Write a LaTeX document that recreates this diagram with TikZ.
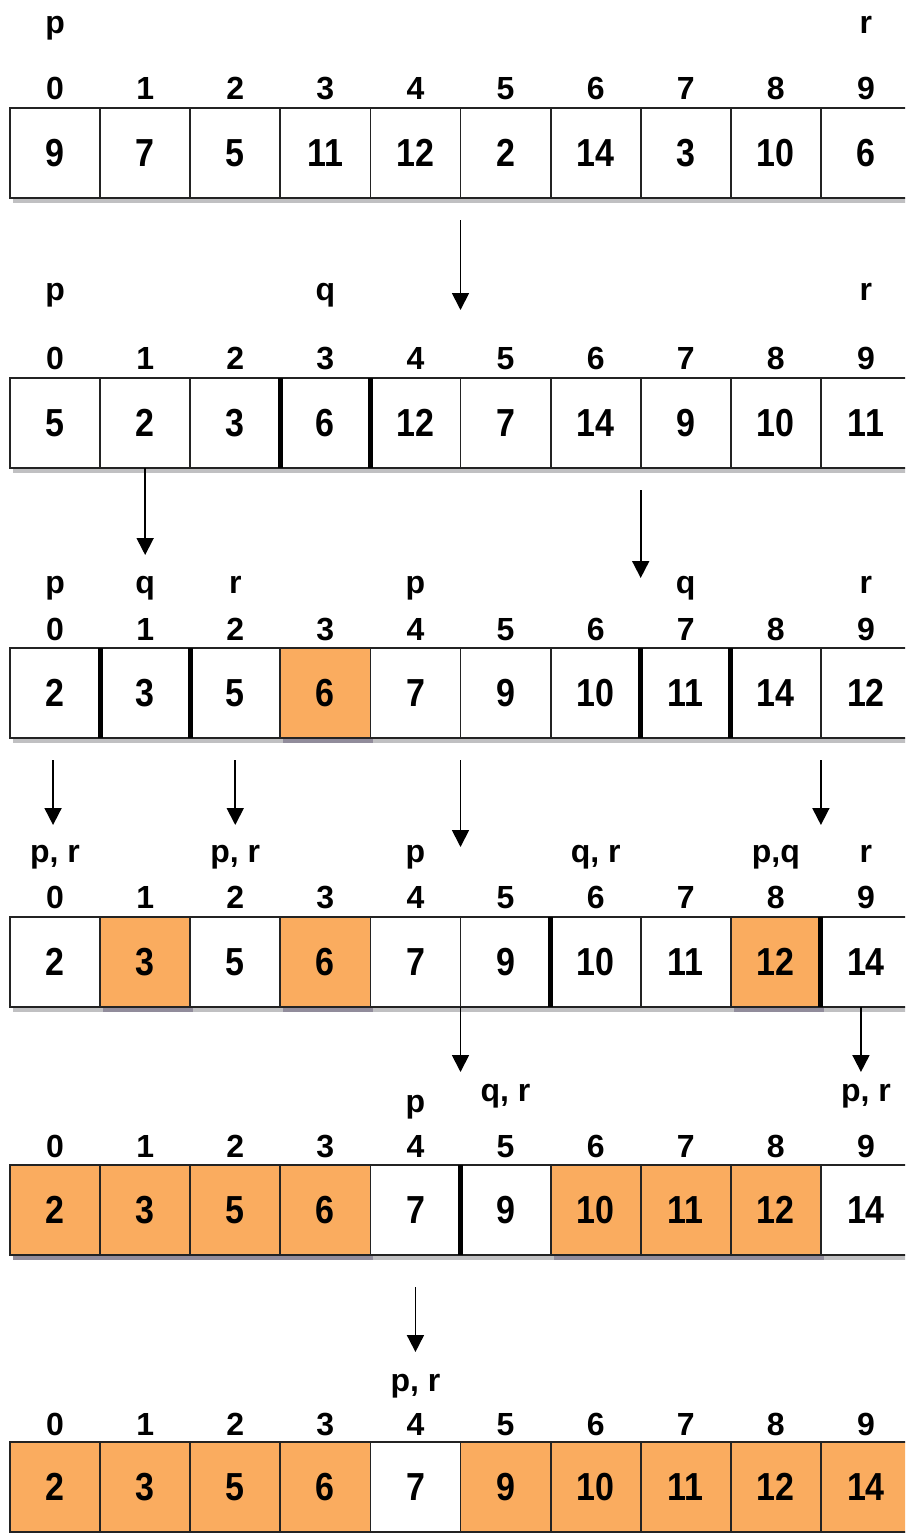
\documentclass[tikz,border=0pt]{standalone}
\usepackage{fontspec}
\setmainfont{Liberation Sans}
\usetikzlibrary{arrows.meta}
\definecolor{cellorange}{RGB}{250,172,95}
\definecolor{shadowgray}{RGB}{192,192,194}
\definecolor{shadowdark}{RGB}{145,140,155}
\definecolor{boxline}{RGB}{35,35,35}
\tikzset{
  cellbase/.style={rectangle, draw=boxline, line width=1.8pt, minimum width=90.1pt,
    minimum height=90pt, inner sep=0pt, outer sep=0pt,
    font=\fontsize{34}{34}\selectfont\bfseries},
  cell0/.style={cellbase, fill=white},
  cell1/.style={cellbase, fill=cellorange},
  shadow0/.style={fill=shadowgray},
  shadow1/.style={fill=shadowdark},
  idx/.style={anchor=base, inner sep=0pt, font=\fontsize{32}{32}\selectfont\bfseries},
  lbl/.style={anchor=base, inner sep=0pt, font=\fontsize{32}{32}\selectfont\bfseries},
  arr/.style={line width=1.8pt, -{Triangle[width=17pt,length=17pt]}},
  divider/.style={line width=5pt, black}
}
\newcommand\arrrow[4]{%
  \foreach \v/\o [count=\i from 0] in {#4} {
    \pgfmathsetmacro\cxx{55.05+90.1*\i}
    \fill[shadow\o] ({10+90.1*\i+3},{#2+90}) rectangle ({10+90.1*(\i+1)+3},{#2+95});
    \node[cell\o] (r#1c\i) at (\cxx,{#2+45}) {\scalebox{1}[1.15]{\v}};
    \node[idx] (i#1c\i) at (\cxx,#3) {\i};
  }%
}
\begin{document}
\begin{tikzpicture}[x=1pt,y=-1pt]
\useasboundingbox (0,0) rectangle (905,1533);
\clip (0,0) rectangle (905,1533);
\fill[white] (0,0) rectangle (905,1533);

% rows
\arrrow{1}{108}{100}{9/0,7/0,5/0,11/0,12/0,2/0,14/0,3/0,10/0,6/0}
\arrrow{2}{378}{369}{5/0,2/0,3/0,6/0,12/0,7/0,14/0,9/0,10/0,11/0}
\arrrow{3}{648}{640}{2/0,3/0,5/0,6/1,7/0,9/0,10/0,11/0,14/0,12/0}
\arrrow{4}{917}{908}{2/0,3/1,5/0,6/1,7/0,9/0,10/0,11/0,12/1,14/0}
\arrrow{5}{1165}{1157}{2/1,3/1,5/1,6/1,7/0,9/0,10/1,11/1,12/1,14/0}
\arrrow{6}{1442}{1435}{2/1,3/1,5/1,6/1,7/0,9/1,10/1,11/1,12/1,14/1}

% thick dividers
\foreach \n in {r2c3,r2c4,r3c1,r3c2,r3c7,r3c8,r4c6,r4c9,r5c5}
  \draw[divider] (\n.north west) -- (\n.south west);

% pointer labels
\node[lbl] (l1a) at (r1c0 |- 0,34) {p};
\node[lbl] (l1b) at (r1c9 |- 0,34) {r};
\node[lbl] (l2a) at (r2c0 |- 0,300) {p};
\node[lbl] (l2b) at (r2c3 |- 0,300) {q};
\node[lbl] (l2c) at (r2c9 |- 0,300) {r};
\node[lbl] (l3a) at (r3c0 |- 0,593) {p};
\node[lbl] (l3b) at (r3c1 |- 0,593) {q};
\node[lbl] (l3c) at (r3c2 |- 0,593) {r};
\node[lbl] (l3d) at (r3c4 |- 0,593) {p};
\node[lbl] (l3e) at (r3c7 |- 0,593) {q};
\node[lbl] (l3f) at (r3c9 |- 0,593) {r};
\node[lbl] (l4a) at (r4c0 |- 0,862) {p, r};
\node[lbl] (l4b) at (r4c2 |- 0,862) {p, r};
\node[lbl] (l4c) at (r4c4 |- 0,862) {p};
\node[lbl] (l4d) at (r4c6 |- 0,862) {q, r};
\node[lbl] (l4e) at (r4c8 |- 0,862) {p,q};
\node[lbl] (l4f) at (r4c9 |- 0,862) {r};
\node[lbl] (l5a) at (r5c4 |- 0,1112) {p};
\node[lbl] (l5b) at (r5c5 |- 0,1101) {q, r};
\node[lbl] (l5c) at (r5c9 |- 0,1101) {p, r};
\node[lbl] (l6a) at (r6c4 |- 0,1391) {p, r};

% arrows
\coordinate (a1s) at (r1c5.south west |- 0,220);
\coordinate (a1e) at (r1c5.south west |- 0,310);
\draw[arr] (a1s) -- (a1e);
\coordinate (a2e) at (r2c1 |- 0,555);
\draw[arr] (r2c1.south) -- (a2e);
\coordinate (a3s) at (r2c7.south west |- 0,490);
\coordinate (a3e) at (r2c7.south west |- 0,578);
\draw[arr] (a3s) -- (a3e);
\coordinate (b1s) at ([xshift=-2pt]r3c0.south |- 0,760);
\coordinate (b1e) at ([xshift=-2pt]r3c0.south |- 0,825);
\draw[arr] (b1s) -- (b1e);
\coordinate (b2s) at (r3c2.south |- 0,760);
\coordinate (b2e) at (r3c2.south |- 0,825);
\draw[arr] (b2s) -- (b2e);
\coordinate (b3s) at (r3c5.south west |- 0,760);
\coordinate (b3e) at (r3c5.south west |- 0,847);
\draw[arr] (b3s) -- (b3e);
\coordinate (b4s) at (r3c9.south west |- 0,760);
\coordinate (b4e) at (r3c9.south west |- 0,825);
\draw[arr] (b4s) -- (b4e);
\coordinate (c1e) at (r4c5.south west |- 0,1072);
\draw[arr] (r4c5.south west) -- (c1e);
\coordinate (c2s) at ([xshift=-5pt]r4c9.south);
\coordinate (c2e) at (c2s |- 0,1072);
\draw[arr] (c2s) -- (c2e);
\coordinate (d1s) at (r6c4 |- 0,1287);
\coordinate (d1e) at (r6c4 |- 0,1352);
\draw[arr] (d1s) -- (d1e);
\end{tikzpicture}
\end{document}
